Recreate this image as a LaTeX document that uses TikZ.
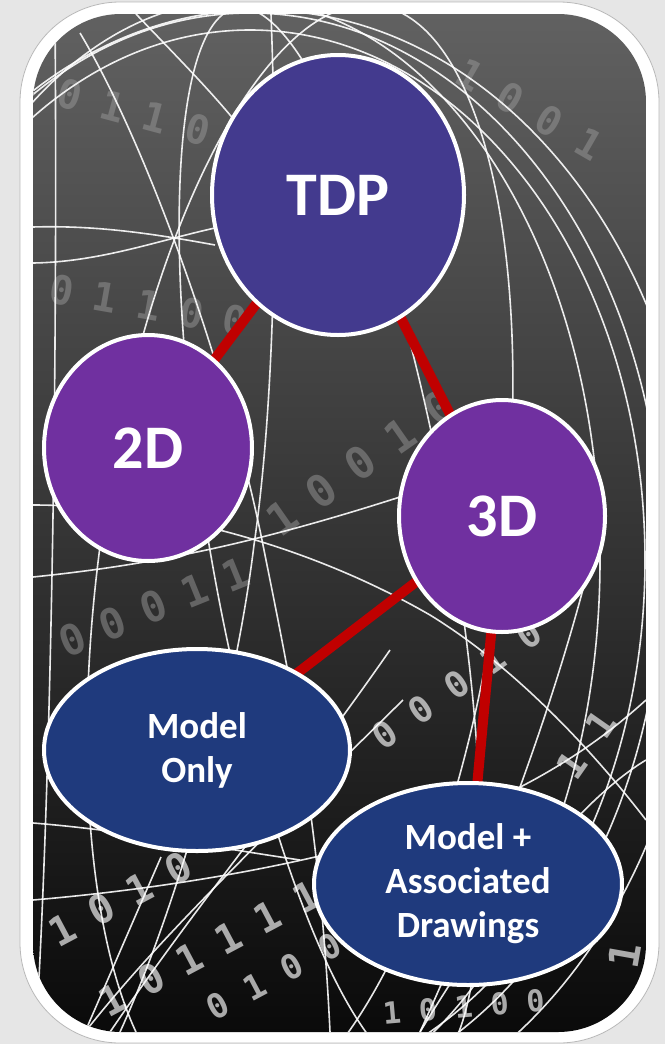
\documentclass[tikz,border=0pt]{standalone}
\usepackage{fontspec}
\setmainfont{Carlito}
\newfontfamily\digitfont{DejaVu Sans Mono}
\usetikzlibrary{shapes.geometric}
\definecolor{tdpc}{HTML}{433A8E}
\definecolor{purp}{HTML}{7030A0}
\definecolor{navyc}{HTML}{1F3A7D}
\definecolor{redl}{HTML}{C00000}
\definecolor{pagebg}{HTML}{E6E6E6}
\tikzset{
  bubble/.style={ellipse, draw=white, line width=4pt, inner sep=0pt, text=white,
    font=\bfseries\fontsize{62}{62}\selectfont},
  smalltext/.style={font=\bfseries\fontsize{37}{44}\selectfont, align=center},
  link/.style={draw=redl, line width=10pt},
  wire/.style={draw=white, line width=1.6pt, opacity=0.9},
  bits/.style={text=gray!80, font=\digitfont\bfseries\fontsize{#1}{#1}\selectfont, opacity=0.5, inner sep=0pt},
  brightbits/.style={text=gray!35, font=\digitfont\bfseries\fontsize{#1}{#1}\selectfont, opacity=0.8, inner sep=0pt},
}
% \bitrow{style}{x}{y}{angle}{spacing}{digits}
\newcommand\bitrow[6]{%
  \foreach \d [count=\i from 0] in {#6}
    \node[#1, rotate=#4] at ({#2+\i*#5*cos(#4)},{#3-\i*#5*sin(#4)}) {\d};}
\begin{document}
\begin{tikzpicture}[x=1pt,y=-1pt]
\fill[pagebg] (0,0) rectangle (665,1044);
\useasboundingbox (0,0) rectangle (665,1044);
\fill[white, draw=gray!55, line width=0.8pt, rounded corners=100pt] (20,2) rectangle (659,1043);
\begin{scope}
  \clip[rounded corners=88pt] (33,14) rectangle (646,1032);
  \shade[top color=black!62, middle color=black!74, bottom color=black!96] (33,14) rectangle (646,1032);
  % binary digits of the background photo
  \bitrow{bits=40}{70}{95}{-15}{44}{0,1,1,0,1}
  \bitrow{bits=40}{470}{75}{-30}{46}{1,0,0,1}
  \bitrow{bits=40}{62}{290}{-10}{44}{0,1,1,0,0}
  \bitrow{bits=44}{282}{518}{35}{48}{1,0,0,1,0}
  \bitrow{bits=42}{72}{640}{22}{44}{0,0,0,1,1}
  \bitrow{brightbits=36}{385}{735}{35}{44}{0,0,0,1,0}
  \bitrow{brightbits=38}{572}{765}{55}{50}{1,1}
  \bitrow{brightbits=40}{62}{930}{28}{44}{1,0,1,0}
  \bitrow{brightbits=40}{112}{1000}{28}{44}{1,0,1,1,1,1}
  \bitrow{brightbits=34}{218}{1006}{28}{42}{0,1,0,0}
  \bitrow{brightbits=30}{392}{1013}{5}{36}{1,0,1,0,0}
  \bitrow{brightbits=42}{625}{955}{80}{40}{1}
  % wireframe globe
  \draw[wire] (55,14) .. controls (58,400) and (50,800) .. (36,1032);
  \draw[wire] (80,33) .. controls (150,150) and (230,380) .. (263,545) .. controls (290,680) and (320,820) .. (330,1032);
  \draw[wire] (136,14) .. controls (180,60) and (220,100) .. (250,140);
  \draw[wire] (271,14) .. controls (278,200) and (275,400) .. (254,545) .. controls (235,700) and (180,900) .. (120,1032);
  \draw[wire] (250,560) ellipse [x radius=413pt, y radius=547pt];
  \draw[wire] (250,560) ellipse [x radius=395pt, y radius=530pt];
  \draw[wire] (260,575) ellipse [x radius=440pt, y radius=565pt];
  \draw[wire] (240,560) ellipse [x radius=360pt, y radius=560pt];
  \draw[wire] (300,560) ellipse [x radius=200pt, y radius=560pt, rotate=-8];
  \draw[wire] (330,540) ellipse [x radius=120pt, y radius=540pt, rotate=10];
  \draw[wire] (33,227) .. controls (100,225) and (160,235) .. (215,245);
  \draw[wire] (33,263) .. controls (100,262) and (160,240) .. (215,228);
  \draw[wire] (33,577) .. controls (150,565) and (250,545) .. (400,497);
  \draw[wire] (33,505) .. controls (150,505) and (300,540) .. (430,615) .. controls (520,670) and (600,760) .. (646,820);
  \draw[wire] (33,823) .. controls (120,830) and (200,845) .. (300,860);
  \draw[wire] (33,900) .. controls (150,890) and (280,870) .. (400,835) .. controls (500,805) and (580,760) .. (646,700);
  \draw[wire] (85,1032) .. controls (150,950) and (220,880) .. (403,700);
  \draw[wire] (110,1032) .. controls (200,900) and (300,780) .. (390,650);
  \draw[wire] (161,857) -- (85,1032);
  \draw[wire] (600,520) .. controls (560,700) and (480,900) .. (420,1032);
  \draw[wire] (420,1032) .. controls (500,900) and (580,800) .. (646,760);
\end{scope}
% connectors behind the bubbles
\coordinate (cTDP) at (338,195);
\coordinate (c2D) at (148,448);
\coordinate (c3D) at (502,516);
\coordinate (cMO) at (197,750);
\coordinate (cMA) at (468,884);
\draw[link] (cTDP) -- (c2D);
\draw[link] (cTDP) -- (c3D);
\draw[link] (c3D) -- (cMO);
\draw[link] (c3D) -- (cMA);
% bubbles
\node[bubble, fill=tdpc, minimum width=252pt, minimum height=280pt] (tdp) at (cTDP) {TDP};
\node[bubble, fill=purp, minimum width=208pt, minimum height=226pt] (twod) at (c2D) {2D};
\node[bubble, fill=purp, minimum width=206pt, minimum height=232pt] (threed) at (c3D) {3D};
\node[bubble, smalltext, fill=navyc, minimum width=306pt, minimum height=202pt] (mo) at (cMO) {Model\\Only};
\node[bubble, smalltext, fill=navyc, minimum width=308pt, minimum height=202pt] (ma) at (cMA) {Model +\\Associated\\Drawings};
\end{tikzpicture}
\end{document}
